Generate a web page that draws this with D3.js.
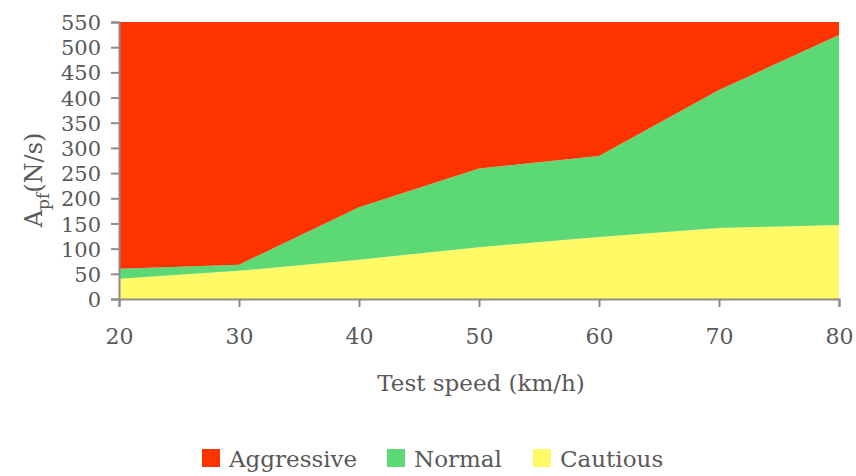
<!DOCTYPE html>
<html><head><meta charset="utf-8">
<script src="https://cdn.jsdelivr.net/npm/d3@7"></script>
<style>body{margin:0;background:#fff}svg{display:block}</style>
</head><body>
<svg id="c" width="856" height="476"></svg>
<script>
const speeds = [20, 30, 40, 50, 60, 70, 80];
const cautious = [40, 56, 78, 103, 123, 141, 147];
const normal = [20, 12, 104, 156, 161, 274, 377];
const aggressive = [490, 482, 368, 291, 266, 135, 26];
const yTicks = [0, 50, 100, 150, 200, 250, 300, 350, 400, 450, 500, 550];
const seriesNames = ["Cautious", "Normal", "Aggressive"];
const legendOrder = ["Aggressive", "Normal", "Cautious"];
const colors = {Aggressive: "#FF3300", Normal: "#5CD975", Cautious: "#FFFA66"};

const rows = speeds.map((s, i) => ({speed: s, Cautious: cautious[i], Normal: normal[i], Aggressive: aggressive[i]}));
const stack = d3.stack().keys(seriesNames)(rows);

const svg = d3.select("#c");
const font = "'DejaVu Serif', 'Liberation Serif', serif";
const textColor = "#595959";
const x = d3.scaleLinear().domain([20, 80]).range([119, 839]);
const y = d3.scaleLinear().domain([0, 550]).range([299, 22]);

const area = d3.area().x(d => x(d.data.speed)).y0(d => y(d[0])).y1(d => y(d[1]));
svg.append("g").selectAll("path").data(stack).join("path")
  .attr("d", area).attr("fill", d => colors[d.key]);

const axisColor = "#8c8c8c";
const yAxis = svg.append("g").attr("transform", "translate(119,0)")
  .call(d3.axisLeft(y).tickValues(yTicks).tickSize(8).tickPadding(10));
const xAxis = svg.append("g").attr("transform", "translate(0,299)")
  .call(d3.axisBottom(x).tickValues(speeds).tickSize(8).tickPadding(21));
[xAxis, yAxis].forEach(g => {
  g.select(".domain").attr("stroke", axisColor).attr("stroke-width", 2);
  g.selectAll(".tick line").attr("stroke", axisColor).attr("stroke-width", 2);
  g.selectAll(".tick text").attr("fill", textColor).style("font-family", font).style("font-size", "21px");
});
xAxis.selectAll(".tick text").style("font-size", "22px");
yAxis.selectAll(".tick text").attr("dy", "0.36em");

svg.append("text").attr("x", 481).attr("y", 391).attr("text-anchor", "middle")
  .attr("fill", textColor).style("font-family", font).style("font-size", "23px")
  .text("Test speed (km/h)");

const yl = svg.append("text").attr("transform", "translate(42,180) rotate(-90)")
  .attr("text-anchor", "middle").attr("fill", textColor)
  .style("font-family", font).style("font-size", "24px");
yl.append("tspan").text("A");
yl.append("tspan").attr("dy", 7).style("font-size", "17px").text("pf");
yl.append("tspan").attr("dy", -7).text("(N/s)");

const legX = [202, 387, 533];
const leg = svg.append("g");
legendOrder.forEach((k, i) => {
  leg.append("rect").attr("x", legX[i]).attr("y", 449).attr("width", 18).attr("height", 18).attr("fill", colors[k]);
  leg.append("text").attr("x", legX[i] + 27).attr("y", 467).attr("fill", textColor)
    .style("font-family", font).style("font-size", "23px").text(k);
});
</script>
</body></html>
